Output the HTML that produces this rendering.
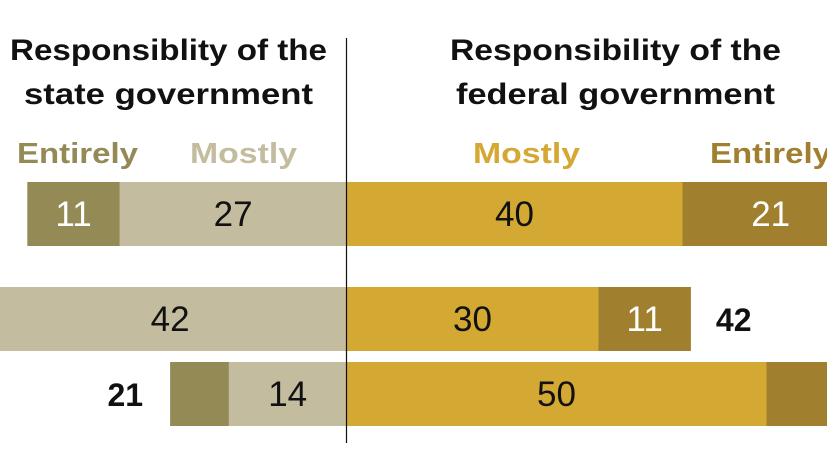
<!DOCTYPE html>
<html><head><meta charset="utf-8">
<style>
html,body{margin:0;padding:0;background:#fff;}
svg{display:block;font-family:"Liberation Sans",Arial,sans-serif;}
</style></head>
<body>
<svg id="chart" width="827" height="466" viewBox="0 0 827 466">
  <g font-weight="bold" font-size="30" fill="#111">
    <text x="10" y="60" textLength="317" lengthAdjust="spacingAndGlyphs">Responsiblity of the</text>
    <text x="24" y="104" textLength="289" lengthAdjust="spacingAndGlyphs">state government</text>
  </g>
  <g font-weight="bold" font-size="30" fill="#111">
    <text x="450" y="60" textLength="331" lengthAdjust="spacingAndGlyphs">Responsibility of the</text>
    <text x="456" y="104" textLength="319" lengthAdjust="spacingAndGlyphs">federal government</text>
  </g>
  <text x="17" y="163" font-size="29" font-weight="bold" fill="#948a55" textLength="121" lengthAdjust="spacingAndGlyphs">Entirely</text>
  <text x="190" y="163" font-size="29" font-weight="bold" fill="#c4bc9e" textLength="107" lengthAdjust="spacingAndGlyphs">Mostly</text>
  <text x="473" y="163" font-size="29" font-weight="bold" fill="#d3a833" textLength="107" lengthAdjust="spacingAndGlyphs">Mostly</text>
  <text x="710" y="163" font-size="29" font-weight="bold" fill="#a07f2f" textLength="121" lengthAdjust="spacingAndGlyphs">Entirely</text>
  <g id="bars"></g>
  <line x1="346.5" y1="38" x2="346.5" y2="443" stroke="#111" stroke-width="1.2"/>
</svg>
<script>
const stateEntirely = [11, 0, 7];
const stateMostly = [27, 42, 14];
const fedMostly = [40, 30, 50];
const fedEntirely = [21, 11, 22];
const stateEntirelyLabels = ["11", "", ""];
const fedEntirelyLabels = ["21", "11", ""];
const stateTotals = ["", "", "21"];
const fedTotals = ["", "42", ""];

const center = 346.5, unit = 8.4;
const rowTops = [182, 287, 362], barH = 64;
const xs = v => v * unit;
const ns = "http://www.w3.org/2000/svg";
const g = document.getElementById('bars');
function rect(x, y, w, h, fill, name) {
  const r = document.createElementNS(ns, 'rect');
  r.setAttribute('x', x); r.setAttribute('y', y);
  r.setAttribute('width', Math.max(0, w)); r.setAttribute('height', h);
  r.setAttribute('fill', fill);
  
  
  g.appendChild(r);
}
function label(x, y, t, fill, bold, anchor, name) {
  if (!t) return;
  const e = document.createElementNS(ns, 'text');
  e.setAttribute('x', x); e.setAttribute('y', y);
  e.setAttribute('font-size', bold ? '32' : '35');
  e.setAttribute('text-anchor', anchor || 'middle');
  if (bold) e.setAttribute('font-weight', 'bold');
  e.setAttribute('fill', fill);
  e.textContent = t;
  
  
  g.appendChild(e);
}
for (let i = 0; i < rowTops.length; i++) {
  const y = rowTops[i], ty = y + barH / 2 + 12;
  const sm = xs(stateMostly[i]), se = xs(stateEntirely[i]);
  const fm = xs(fedMostly[i]), fe = xs(fedEntirely[i]);
  rect(center - sm, y, sm, barH, '#c4bc9e', 'bar-state-mostly');
  rect(center - sm - se, y, se, barH, '#948a55', 'bar-state-entirely');
  rect(center, y, fm, barH, '#d3a833', 'bar-federal-mostly');
  rect(center + fm, y, fe, barH, '#a07f2f', 'bar-federal-entirely');
  label(center - sm / 2, ty, String(stateMostly[i]), '#111', false, 'middle', 'value-state-mostly');
  label(center - sm - se / 2, ty, stateEntirelyLabels[i], '#fff', false, 'middle', 'value-state-entirely');
  label(center + fm / 2, ty, String(fedMostly[i]), '#111', false, 'middle', 'value-federal-mostly');
  label(center + fm + fe / 2, ty, fedEntirelyLabels[i], '#fff', false, 'middle', 'value-federal-entirely');
  label(center - sm - se - 27, ty, stateTotals[i], '#111', true, 'end', 'total-state');
  label(center + fm + fe + 25, ty, fedTotals[i], '#111', true, 'start', 'total-federal');
}
</script>
</body></html>
